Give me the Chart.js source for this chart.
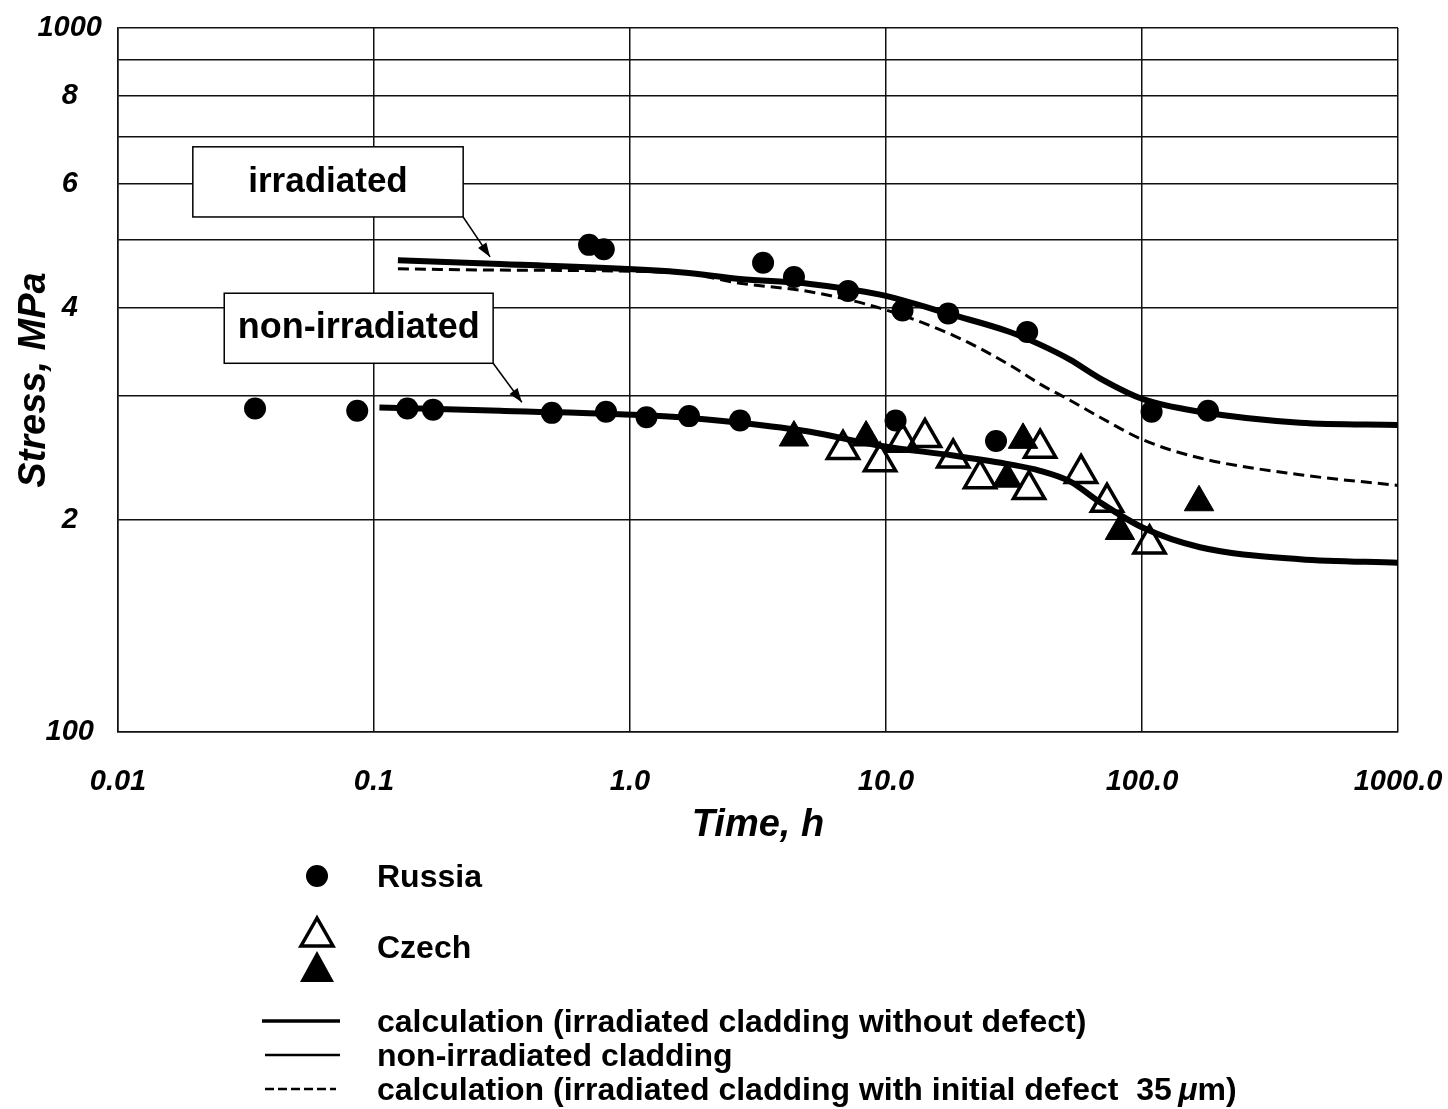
<!DOCTYPE html>
<html>
<head>
<meta charset="utf-8">
<script src="https://cdn.jsdelivr.net/npm/chart.js@4.4.1/dist/chart.umd.min.js"></script>
<style>
  body { margin: 0; background: #fff; }
  #wrap { position: relative; width: 1448px; height: 1109px; font-family: "Liberation Sans", Arial, sans-serif; }
  #c { position: absolute; left: 0; top: 0; }
  .lg { position: absolute; left: 377px; font-weight: bold; font-size: 32px; line-height: 36px; color: #000; white-space: nowrap; }
  #legendMarks { position: absolute; left: 0; top: 840px; }
</style>
</head>
<body>
<div id="wrap">
  <canvas id="c" width="1448" height="860"></canvas>
  <svg id="legendMarks" width="400" height="269">
    <!-- отметки легенды (y относительно 840) -->
    <circle cx="317" cy="36" r="11" fill="#000"/>
    <polygon points="317,78 301,106 333,106" fill="none" stroke="#000" stroke-width="3.5"/>
    <polygon points="317,111 300,142 334,142" fill="#000"/>
    <line x1="262" y1="181" x2="340" y2="181" stroke="#000" stroke-width="3.5"/>
    <line x1="265" y1="215" x2="340" y2="215" stroke="#000" stroke-width="2.5"/>
    <line x1="265" y1="249" x2="336" y2="249" stroke="#000" stroke-width="2.5" stroke-dasharray="9,4"/>
  </svg>
  <div class="lg" style="top:858px">Russia</div>
  <div class="lg" style="top:929px">Czech</div>
  <div class="lg" style="top:1003px">calculation (irradiated cladding without defect)</div>
  <div class="lg" style="top:1037px">non-irradiated cladding</div>
  <div class="lg" style="top:1071px">calculation (irradiated cladding with initial defect&nbsp; 35&thinsp;<i>μ</i>m)</div>
</div>
<script>
// Оси
const xTickValues = [0.01, 0.1, 1, 10, 100, 1000];
const xTickLabels = ['0.01', '0.1', '1.0', '10.0', '100.0', '1000.0'];
const yTickValues = [100, 200, 300, 400, 500, 600, 700, 800, 900, 1000];
const yTickLabels = ['100', '2', '', '4', '', '6', '', '8', '', '1000'];

// Russia (кружки)
const russiaTime = [0.0343, 0.086, 0.135, 0.170, 0.495, 0.806, 1.16, 1.70, 2.69, 10.9, 26.9,
                    0.692, 0.79, 3.31, 4.37, 7.11, 11.6, 17.5, 35.6, 109, 181];
const russiaStress = [288, 286, 288, 287, 284, 285, 280, 281, 277, 277, 259,
                      492, 485, 464, 443, 423, 397, 393, 370, 285, 286];

// Czech, светлые треугольники
const czechOpenTime = [6.79, 9.48, 11.6, 14.2, 18.3, 23.3, 40.0, 36.2, 57.8, 73.0, 107];
const czechOpenStress = [252, 242, 258, 262, 245, 229, 253, 221, 233, 212, 185];

// Czech, тёмные треугольники
const czechFilledTime = [4.37, 8.36, 34.3, 29.7, 82.0, 167];
const czechFilledStress = [262, 262, 260, 229, 193, 212];

// Расчётные кривые
const irrTime = [0.124, 0.311, 1.57, 2.69, 5.05, 9.48, 18.3, 30.5, 40.0, 52.3, 68.5, 101, 168.5, 414, 1000];
const irrStress = [468, 462, 450, 440, 433, 418, 391, 370, 355, 338, 318, 297, 285, 275, 273];
const defectStress = [455, 453, 449, 434, 422, 400, 366, 332, 312, 296, 280, 260, 245, 232, 224];
const nonIrrTime = [0.105, 0.311, 1.57, 2.69, 5.05, 9.48, 18.3, 30.5, 40.0, 52.3, 68.5, 101, 168.5, 414, 1000];
const nonIrrStress = [289, 286, 280, 275, 267, 255, 247, 240, 235, 227, 212, 195, 183, 176, 174];

function toPoints(xs, ys) {
    return xs.map((x, i) => ({ x: x, y: ys[i] }));
}

// Подписи в рамках со стрелками
const notes = [
    { text: 'irradiated', size: 35, x0: 0.0196, x1: 0.223, yTop: 678, yBottom: 539, tipX: 0.284, tipY: 473 },
    { text: 'non-irradiated', size: 36, x0: 0.026, x1: 0.292, yTop: 420, yBottom: 334, tipX: 0.378, tipY: 294 }
];

const notesPlugin = {
    id: 'notes',
    afterDraw(chart) {
        const ctx = chart.ctx;
        const xs = chart.scales.x;
        const ys = chart.scales.y;
        ctx.save();
        notes.forEach(n => {
            const l = xs.getPixelForValue(n.x0), r = xs.getPixelForValue(n.x1);
            const t = ys.getPixelForValue(n.yTop), b = ys.getPixelForValue(n.yBottom);
            ctx.fillStyle = '#fff';
            ctx.fillRect(l, t, r - l, b - t);
            ctx.strokeStyle = '#000';
            ctx.lineWidth = 1.5;
            ctx.strokeRect(l, t, r - l, b - t);
            ctx.fillStyle = '#000';
            ctx.font = 'bold ' + n.size + 'px "Liberation Sans", Arial, sans-serif';
            ctx.textAlign = 'center';
            ctx.textBaseline = 'middle';
            ctx.fillText(n.text, (l + r) / 2, (t + b) / 2);

            // стрелка
            const tx = xs.getPixelForValue(n.tipX), ty = ys.getPixelForValue(n.tipY);
            ctx.beginPath();
            ctx.moveTo(r, b);
            ctx.lineTo(tx, ty);
            ctx.stroke();
            const ang = Math.atan2(ty - b, tx - r);
            ctx.beginPath();
            ctx.moveTo(tx, ty);
            ctx.lineTo(tx - 14 * Math.cos(ang) + 5 * Math.sin(ang), ty - 14 * Math.sin(ang) - 5 * Math.cos(ang));
            ctx.lineTo(tx - 14 * Math.cos(ang) - 5 * Math.sin(ang), ty - 14 * Math.sin(ang) + 5 * Math.cos(ang));
            ctx.closePath();
            ctx.fill();
        });
        ctx.restore();
    }
};

const tickFont = { family: '"Liberation Sans", Arial, sans-serif', size: 29, style: 'italic', weight: 'bold' };
const titleFont = { family: '"Liberation Sans", Arial, sans-serif', size: 38, style: 'italic', weight: 'bold' };

new Chart(document.getElementById('c').getContext('2d'), {
    type: 'scatter',
    data: {
        datasets: [
            {
                label: 'Russia',
                data: toPoints(russiaTime, russiaStress),
                pointStyle: 'circle',
                pointRadius: 11,
                backgroundColor: '#000',
                borderWidth: 0,
                order: 1
            },
            {
                label: 'Czech (open)',
                data: toPoints(czechOpenTime, czechOpenStress),
                pointStyle: 'triangle',
                pointRadius: 18,
                backgroundColor: 'rgba(0,0,0,0)',
                borderColor: '#000',
                borderWidth: 3.5,
                order: 1
            },
            {
                label: 'Czech (filled)',
                data: toPoints(czechFilledTime, czechFilledStress),
                pointStyle: 'triangle',
                pointRadius: 17,
                backgroundColor: '#000',
                borderColor: '#000',
                borderWidth: 1,
                order: 1
            },
            {
                label: 'calculation (irradiated cladding without defect)',
                data: toPoints(irrTime, irrStress),
                showLine: true,
                pointRadius: 0,
                borderColor: '#000',
                borderWidth: 6,
                cubicInterpolationMode: 'monotone',
                order: 2
            },
            {
                label: 'non-irradiated cladding',
                data: toPoints(nonIrrTime, nonIrrStress),
                showLine: true,
                pointRadius: 0,
                borderColor: '#000',
                borderWidth: 6,
                cubicInterpolationMode: 'monotone',
                order: 2
            },
            {
                label: 'calculation (irradiated cladding with initial defect 35 μm)',
                data: toPoints(irrTime, defectStress),
                showLine: true,
                pointRadius: 0,
                borderColor: '#000',
                borderWidth: 3,
                borderDash: [11, 6],
                cubicInterpolationMode: 'monotone',
                order: 2
            }
        ]
    },
    options: {
        responsive: false,
        animation: false,
        events: [],
        layout: { padding: { top: 28, right: 50, left: 0, bottom: 0 } },
        plugins: {
            legend: { display: false },
            tooltip: { enabled: false }
        },
        scales: {
            x: {
                type: 'logarithmic',
                min: 0.01,
                max: 1000,
                afterBuildTicks: s => { s.ticks = xTickValues.map(v => ({ value: v })); },
                afterFit: s => { s.height = 128; },
                ticks: {
                    autoSkip: false,
                    maxRotation: 0,
                    padding: 0,
                    color: '#000',
                    font: tickFont,
                    callback: (v, i) => xTickLabels[i]
                },
                // невидимые засечки дают отступ подписей
                grid: { color: '#111', lineWidth: 1.5, drawTicks: true, tickLength: 33, tickColor: 'rgba(0,0,0,0)' },
                border: { color: '#111', width: 1.5 },
                title: { display: true, text: 'Time, h', color: '#000', font: titleFont, padding: { top: 0, bottom: 12 } }
            },
            y: {
                type: 'logarithmic',
                min: 100,
                max: 1000,
                afterBuildTicks: s => { s.ticks = yTickValues.map(v => ({ value: v })); },
                afterFit: s => { s.width = 118; },
                ticks: {
                    autoSkip: false,
                    padding: 0,
                    crossAlign: 'center',
                    color: '#000',
                    font: tickFont,
                    callback: (v, i) => yTickLabels[i]
                },
                grid: { color: '#111', lineWidth: 1.5, drawTicks: true, tickLength: 16, tickColor: 'rgba(0,0,0,0)' },
                border: { color: '#111', width: 1.5 },
                title: { display: true, text: 'Stress, MPa', color: '#000', font: titleFont, padding: { top: 12, bottom: 0 } }
            }
        }
    },
    plugins: [notesPlugin]
});
</script>
</body>
</html>
